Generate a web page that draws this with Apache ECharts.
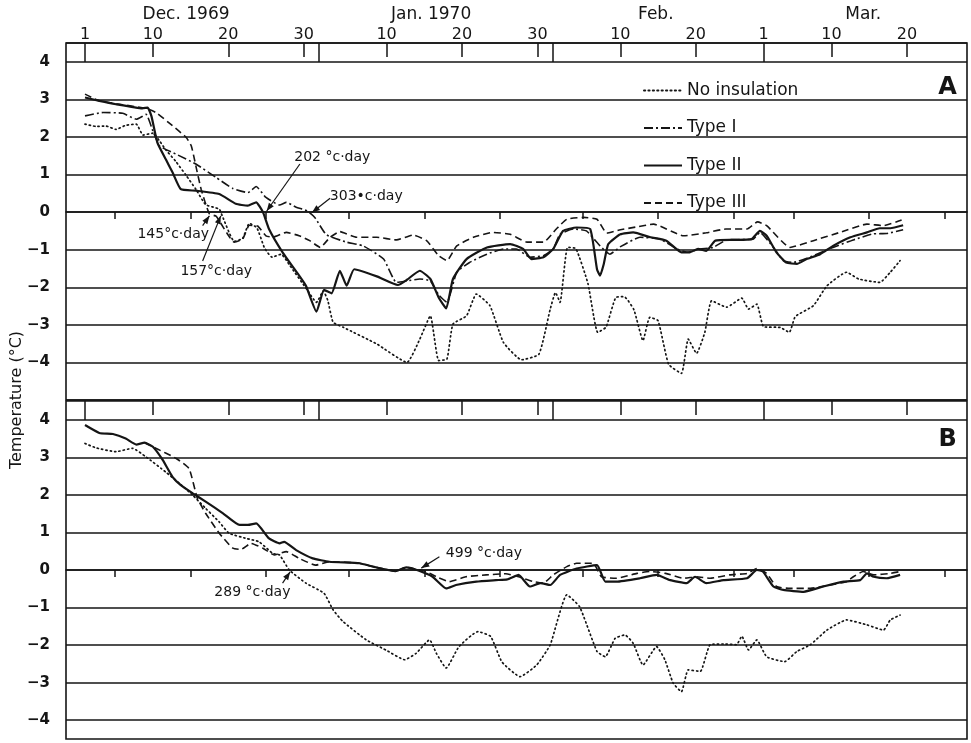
<!DOCTYPE html>
<html><head><meta charset="utf-8">
<script src="https://cdn.jsdelivr.net/npm/echarts@6/dist/echarts.min.js"></script>
<style>html,body{margin:0;padding:0;background:#fff;}#c{width:971px;height:743px;}</style>
</head><body><div id="c"></div>
<script>
// ---- data (x = days after 1 Dec 1969, y = temperature in degC) ----
const seriesNames = ['No insulation', 'Type I', 'Type II', 'Type III'];

const A_none = [[0,2.34],[1.5,2.28],[2.8,2.29],[4.1,2.2],[5.4,2.31],[6.8,2.34],[7.7,2.05],[9,2.1],[9.9,1.89],[10.7,1.66],[12,1.36],[13.4,0.98],[14.7,0.61],[16,0.2],[17.8,0.08],[18.2,-0.1],[19.8,-0.78],[20.9,-0.7],[21.8,-0.3],[22.8,-0.42],[23.8,-0.95],[24.8,-1.2],[26,-1.12],[27.2,-1.43],[29.4,-2.05],[30.7,-2.4],[31.6,-2.1],[32.2,-2.35],[32.9,-2.93],[34.3,-3.07],[38.7,-3.51],[42.7,-4.0],[44.4,-3.38],[45.8,-2.76],[46.9,-3.95],[48,-3.91],[48.8,-2.98],[50.6,-2.76],[51.9,-2.18],[53.7,-2.49],[55.5,-3.47],[57.9,-3.93],[60.2,-3.78],[61.7,-2.58],[62.4,-2.14],[63,-2.4],[64,-0.94],[65.1,-0.97],[66.7,-1.9],[68,-3.2],[69.1,-3.06],[70.4,-2.27],[71.5,-2.25],[72.8,-2.6],[74,-3.42],[74.9,-2.8],[76,-2.89],[77.4,-4.05],[79.1,-4.29],[80,-3.38],[81.1,-3.76],[82.2,-3.2],[83.1,-2.36],[85.1,-2.53],[87.1,-2.29],[88,-2.58],[89.1,-2.45],[90,-3.05],[92.2,-3.07],[93.4,-3.2],[94.2,-2.78],[96.6,-2.49],[98.4,-1.96],[101,-1.6],[102.6,-1.78],[105.4,-1.87],[106.8,-1.6],[108.1,-1.29]];

const A_type1 = [[0,2.56],[2.4,2.65],[5,2.63],[6.8,2.47],[8.1,2.6],[9,2.16],[9.9,1.76],[12.1,1.54],[14.7,1.28],[17.4,0.92],[19.6,0.63],[21.6,0.52],[22.7,0.68],[24,0.39],[25.8,0.19],[26.7,0.26],[28,0.13],[29.5,0.03],[30.5,-0.15],[32,-0.6],[34.7,-0.8],[36.9,-0.9],[39.6,-1.25],[41.3,-1.87],[42.7,-1.83],[44.4,-1.78],[45.8,-1.83],[46.9,-2.2],[48,-2.4],[49.3,-1.6],[51,-1.34],[53.3,-1.12],[55.5,-0.98],[57.2,-0.98],[59,-1.2],[60.8,-1.16],[62.1,-0.98],[63,-0.59],[64.8,-0.45],[66.5,-0.5],[68.3,-0.9],[69.6,-1.12],[71,-0.92],[73.6,-0.67],[76.3,-0.72],[78.5,-0.98],[79.8,-1.07],[81.6,-0.98],[83.3,-0.94],[85.1,-0.74],[88.6,-0.72],[89.5,-0.54],[91.3,-0.94],[92.6,-1.29],[93.9,-1.34],[96.6,-1.16],[99.2,-0.94],[101.9,-0.74],[104.5,-0.58],[106.3,-0.57],[108.5,-0.47]];

const A_type2 = [[0,3.05],[1.9,2.96],[4.1,2.87],[7.6,2.76],[8.3,2.78],[8.8,2.56],[9.6,1.85],[10.7,1.41],[11.6,1.06],[12.7,0.61],[14.7,0.57],[17.8,0.48],[20,0.22],[21.6,0.17],[22.7,0.26],[23.6,0.0],[24.4,-0.45],[26.2,-1.07],[28.4,-1.69],[29.3,-1.96],[30.7,-2.65],[31.7,-2.07],[32.7,-2.16],[33.8,-1.56],[34.7,-1.96],[35.7,-1.52],[38.7,-1.71],[41.5,-1.94],[42.7,-1.8],[44.4,-1.56],[45.8,-1.78],[46.9,-2.27],[47.9,-2.56],[48.8,-1.78],[50.6,-1.25],[53.3,-0.94],[56.4,-0.85],[58.1,-0.98],[59.2,-1.25],[60.8,-1.2],[62.1,-0.98],[63.4,-0.5],[65.2,-0.41],[67,-0.45],[67.9,-1.52],[68.3,-1.69],[68.8,-1.38],[69.4,-0.85],[71,-0.59],[72.7,-0.54],[75,-0.67],[77.1,-0.76],[79.1,-1.07],[80.2,-1.07],[81.3,-0.98],[82.4,-1.03],[83.6,-0.76],[86,-0.74],[88.4,-0.72],[89.5,-0.5],[90.4,-0.63],[91.7,-1.07],[93,-1.34],[94.4,-1.38],[95.7,-1.25],[97.5,-1.12],[99.2,-0.9],[101.5,-0.67],[103.7,-0.54],[105.4,-0.43],[106.8,-0.43],[108.5,-0.35]];

const A_type3 = [[0,3.14],[1.9,2.96],[8.1,2.76],[9.4,2.65],[11.6,2.3],[13.4,1.99],[14.1,1.76],[14.7,1.23],[15.4,0.61],[16.5,-0.05],[17.4,-0.11],[19.8,-0.8],[20.9,-0.72],[21.8,-0.35],[22.9,-0.37],[24,-0.63],[24.9,-0.67],[26.7,-0.54],[28.4,-0.63],[29.8,-0.76],[31.2,-0.94],[32.5,-0.67],[33.8,-0.52],[36,-0.67],[38.7,-0.67],[41.3,-0.74],[43.5,-0.61],[45.3,-0.76],[46.9,-1.16],[48,-1.29],[49.3,-0.9],[51.5,-0.67],[54.1,-0.54],[56.4,-0.59],[58.6,-0.8],[60.8,-0.8],[62.5,-0.45],[63.9,-0.19],[66.1,-0.14],[67.9,-0.19],[69.2,-0.56],[71,-0.47],[73,-0.4],[75.4,-0.32],[79.4,-0.63],[82.4,-0.55],[85,-0.45],[87.8,-0.45],[89.2,-0.26],[90.4,-0.36],[93.5,-0.94],[96.6,-0.76],[100.1,-0.54],[103.7,-0.32],[105.9,-0.36],[108.3,-0.21]];

const B_none = [[0,3.37],[1.5,3.25],[4.1,3.15],[6.3,3.24],[8.1,3.01],[10.7,2.61],[12.5,2.31],[14.3,1.99],[16,1.64],[17.8,1.28],[19.1,0.98],[21.4,0.84],[23.1,0.75],[24.9,0.44],[25.8,0.4],[27.1,0],[29.3,-0.35],[31.7,-0.62],[32.9,-1.06],[34.2,-1.37],[37.3,-1.86],[39.9,-2.13],[42.4,-2.39],[43.9,-2.22],[45.7,-1.86],[46.6,-2.22],[47.9,-2.61],[49.6,-2.04],[52.1,-1.64],[53.8,-1.77],[55.3,-2.45],[57.7,-2.84],[59.9,-2.53],[61.7,-1.99],[63.9,-0.66],[65.6,-0.98],[67.9,-2.17],[69,-2.31],[70.3,-1.82],[71.6,-1.73],[72.7,-1.95],[74,-2.53],[75.8,-2.04],[76.9,-2.39],[78,-3.01],[79.1,-3.24],[80,-2.66],[81.6,-2.7],[82.9,-1.99],[84.7,-1.97],[86.4,-1.99],[87.1,-1.76],[88,-2.13],[89.1,-1.86],[90.4,-2.31],[92.8,-2.44],[94.4,-2.17],[96.2,-1.99],[98.4,-1.6],[101,-1.33],[103.7,-1.46],[105.9,-1.6],[106.8,-1.33],[108.1,-1.2]];

const B_type2 = [[0,3.86],[1.9,3.65],[3.7,3.62],[5.4,3.5],[6.8,3.34],[7.9,3.39],[9,3.28],[10.3,2.93],[11.6,2.48],[12.7,2.26],[14.3,2.04],[16,1.82],[18.3,1.51],[20.5,1.2],[21.6,1.2],[22.7,1.24],[24.4,0.84],[25.8,0.71],[26.4,0.75],[28,0.53],[30.2,0.31],[32.4,0.22],[36.4,0.18],[38.2,0.09],[41.2,-0.03],[42.6,0.07],[44.3,-0.02],[46.1,-0.18],[47.9,-0.49],[49.2,-0.4],[51.9,-0.31],[54.5,-0.27],[56,-0.25],[57.5,-0.13],[59,-0.44],[60.4,-0.35],[61.7,-0.4],[63,-0.13],[65.2,0.04],[67.9,0.13],[69,-0.31],[70.5,-0.31],[73.6,-0.22],[75.8,-0.13],[77.6,-0.27],[79.8,-0.35],[80.9,-0.18],[82.4,-0.35],[84.7,-0.27],[87.8,-0.22],[89.1,0],[89.9,-0.04],[91.3,-0.44],[92.6,-0.53],[95.3,-0.58],[97.9,-0.44],[100.6,-0.31],[102.8,-0.27],[103.7,-0.09],[104.6,-0.18],[106.3,-0.22],[108.1,-0.13]];

const B_type3 = [[7.9,3.39],[9.4,3.24],[12.1,2.97],[13.8,2.7],[14.9,1.91],[16,1.51],[17.8,0.98],[19.6,0.58],[20.7,0.55],[22,0.71],[23.6,0.58],[25.1,0.4],[26.7,0.49],[28.4,0.31],[30.6,0.13],[32.4,0.22],[36.4,0.18],[38.2,0.09],[41.2,-0.03],[42.6,0.07],[45.2,-0.04],[46.8,-0.2],[48.3,-0.31],[50.5,-0.18],[53.2,-0.13],[55.8,-0.1],[57.5,-0.18],[59.5,-0.31],[60.8,-0.35],[62.1,-0.13],[63.9,0.09],[65.2,0.18],[67.4,0.18],[68.5,-0.18],[70.5,-0.22],[73.2,-0.09],[74.9,-0.04],[77,-0.09],[79.4,-0.22],[81.1,-0.18],[82.9,-0.22],[85.5,-0.13],[87.8,-0.09],[89.1,0.04],[90.4,-0.09],[91.7,-0.44],[93.5,-0.49],[96.2,-0.49],[98.8,-0.4],[101,-0.31],[101.9,-0.18],[103.2,-0.04],[104.6,-0.13],[106.8,-0.09],[108.1,-0.04]];

// ---- axis ticks / labels ----
const dayLabelDays = [0,9,19,29,40,50,60,71,81,90,99,109];
const dayLabels = ['1','10','20','30','10','20','30','10','20','1','10','20'];
const monthLabelDays = [13.4,45.9,75.7,103.2];
const monthLabels = ['Dec. 1969','Jan. 1970','Feb.','Mar.'];
const minorTickDays = [4,14,24,35,45,55,66,76,86,94,104,114];
const midTickDays = [9,19,29,40,50,60,71,81,99,109];
const monthTickDays = [0,31,62,90];
const yTickValues = [-4,-3,-2,-1,0,1,2,3,4];

// ---- annotations (data coordinates) ----
const annotations = [
  {grid:0, text:'202 °c·day', at:[32.8,1.46], tail:[28.5,1.28], tip:[24.1,0.03]},
  {grid:0, text:'303•c·day', at:[37.3,0.43], tail:[32.5,0.37], tip:[30.1,-0.01]},
  {grid:0, text:'145°c·day', at:[11.7,-0.59], tail:[15.6,-0.36], tip:[16.5,-0.1]},
  {grid:0, text:'157°c·day', at:[17.4,-1.58], tail:[15.6,-1.3], tip:[18.0,-0.1]},
  {grid:1, text:'499 °c·day', at:[52.9,0.45], tail:[47.0,0.35], tip:[44.6,0.05]},
  {grid:1, text:'289 °c·day', at:[22.2,-0.6], tail:[26.2,-0.35], tip:[27.2,-0.05]}
];
const panelLetters = [{grid:0, text:'A', at:[114.4,3.32]}, {grid:1, text:'B', at:[114.4,3.46]}];

const XMIN = -2.52, XMAX = 116.97;
const FONT = 'DejaVu Sans';
const INK = '#151515';

function nearestIdx(arr, v){let b=0,d=1e9;arr.forEach((a,i)=>{if(Math.abs(a-v)<d){d=Math.abs(a-v);b=i;}});return b;}
function yFmt(v){ if (v < -4.01 || v > 4.01 || Math.abs(v-Math.round(v))>1e-6) return ''; return v<0 ? '\u2212'+Math.abs(v) : String(v); }

const grids = [
  {left:66, right:4, top:43, height:357, show:true, borderColor:INK, borderWidth:1.6},
  {left:66, right:4, top:401, height:338, show:true, borderColor:INK, borderWidth:1.6}
];

const xAxes = [];
function addX(gridIndex, cfg){ xAxes.push(Object.assign({type:'value', gridIndex, min:XMIN, max:XMAX, position:'top',
  splitLine:{show:false}, axisLine:{show:false}, axisTick:{show:false}, axisLabel:{show:false}}, cfg)); return xAxes.length-1; }
const mainX = [];
[0,1].forEach(g=>{
  mainX[g] = addX(g, {
    axisLine:{show:true, lineStyle:{color:INK, width:1.6}},
    axisTick:{show:true, inside:true, length:7, customValues:minorTickDays, lineStyle:{color:INK, width:1.5}},
    axisLabel: g===0 ? {show:true, customValues:dayLabelDays, margin:0, fontFamily:FONT, fontSize:16, color:INK,
      formatter:v=>dayLabels[nearestIdx(dayLabelDays,v)]} : {show:false}
  });
  addX(g, {axisTick:{show:true, inside:true, length:14, customValues:midTickDays, lineStyle:{color:INK, width:1.5}}});
  addX(g, {axisTick:{show:true, inside:true, length:19, customValues:monthTickDays, lineStyle:{color:INK, width:1.5}}});
});
addX(0, {axisLabel:{show:true, customValues:monthLabelDays, margin:20, fontFamily:FONT, fontSize:17, color:INK,
  formatter:v=>monthLabels[nearestIdx(monthLabelDays,v)]}});

const yLabelStyle = {show:true, margin:16, fontFamily:FONT, fontSize:15, fontWeight:'bold', color:INK, formatter:yFmt};
const yAxes = [
  {type:'value', gridIndex:0, min:-5, max:4.5, interval:1,
   axisLine:{show:false}, axisTick:{show:false},
   splitLine:{show:true, lineStyle:{color:INK, width:1.6}},
   axisLabel:Object.assign({}, yLabelStyle)},
  {type:'value', gridIndex:1, min:-4.5, max:4.5,
   axisLine:{show:false}, axisTick:{show:false, customValues:yTickValues},
   splitLine:{show:true, lineStyle:{color:INK, width:1.6}},
   axisLabel:Object.assign({}, yLabelStyle, {customValues:yTickValues})}
];

const styles = {
  'No insulation': {type:[1.2,3.2], width:1.7, cap:'round'},
  'Type I': {type:[9,3,2,3], width:1.6},
  'Type II': {type:'solid', width:2.2},
  'Type III': {type:[7,4], width:1.6}
};
function mk(name, g, data){
  return {name, type:'line', xAxisIndex:mainX[g], yAxisIndex:g, data, symbol:'none', smooth:0.15,
    lineStyle:Object.assign({color:INK}, styles[name]), itemStyle:{color:INK}, emphasis:{disabled:true}, z:3};
}
const series = [
  mk('No insulation',0,A_none), mk('Type I',0,A_type1), mk('Type II',0,A_type2), mk('Type III',0,A_type3),
  mk('No insulation',1,B_none), mk('Type II',1,B_type2), mk('Type III',1,B_type3)
];

const chart = echarts.init(document.getElementById('c'), null, {renderer:'canvas'});
chart.setOption({
  backgroundColor:'#fff',
  animation:false,
  grid:grids, xAxis:xAxes, yAxis:yAxes, series,
  legend:{data:seriesNames, orient:'vertical', left:638, top:77, itemWidth:38, itemHeight:16, itemGap:20.5,
    itemStyle:{opacity:0},
    textStyle:{fontFamily:FONT, fontSize:17, color:INK, lineHeight:16}, selectedMode:false, inactiveColor:INK}
});

// annotations placed through the chart's own scales
const seriesForGrid = [0, 4];
const gfx = [];
function px(g, p){ return chart.convertToPixel({seriesIndex:seriesForGrid[g]}, p); }
annotations.forEach(a=>{
  const t = px(a.grid, a.at), s = px(a.grid, a.tail), e = px(a.grid, a.tip);
  gfx.push({type:'text', x:t[0], y:t[1], style:{text:a.text, fontFamily:FONT, fontSize:14, fill:INK, align:'center', verticalAlign:'middle'}, z:10});
  gfx.push({type:'line', shape:{x1:s[0], y1:s[1], x2:e[0], y2:e[1]}, style:{stroke:INK, lineWidth:1.2}, z:10});
  const ang = Math.atan2(e[1]-s[1], e[0]-s[0]), L = 8, W = 3;
  const bx = e[0]-L*Math.cos(ang), by = e[1]-L*Math.sin(ang);
  const nx = -Math.sin(ang)*W, ny = Math.cos(ang)*W;
  gfx.push({type:'polygon', shape:{points:[[e[0],e[1]],[bx+nx,by+ny],[bx-nx,by-ny]]}, style:{fill:INK}, z:10});
});
panelLetters.forEach(a=>{
  const t = px(a.grid, a.at);
  gfx.push({type:'text', x:t[0], y:t[1], style:{text:a.text, fontFamily:FONT, fontSize:24, fontWeight:'bold', fill:INK, align:'center', verticalAlign:'middle'}, z:10});
});
gfx.push({type:'text', x:17, y:400, rotation:Math.PI/2, style:{text:'Temperature (°C)', fontFamily:FONT, fontSize:16, fill:INK, align:'center', verticalAlign:'middle'}, z:10});
chart.setOption({graphic:gfx});
</script></body></html>
